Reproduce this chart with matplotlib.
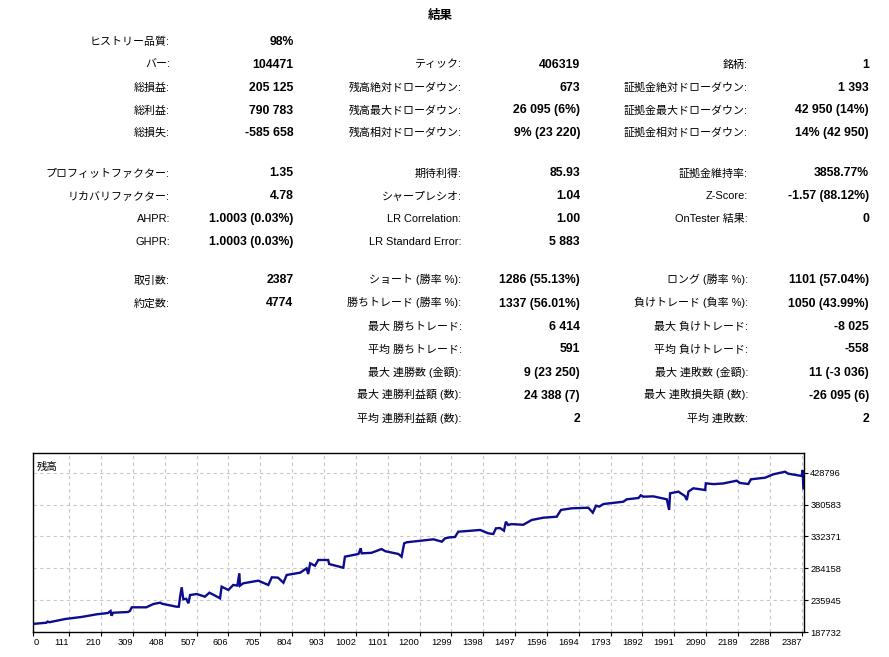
import numpy as np
import matplotlib.pyplot as plt

# --- report table ---
row_y = [40, 62.5, 86, 108.5, 131, 171.5, 194, 217, 240,
         278.5, 301.5, 324.5, 347.5, 370.5, 393.5, 416.5]

col1_labels = ['ヒストリー品質:', 'バー:', '総損益:', '総利益:', '総損失:',
               'プロフィットファクター:', 'リカバリファクター:', 'AHPR:', 'GHPR:',
               '取引数:', '約定数:']
col1_values = ['98%', '104471', '205 125', '790 783', '-585 658',
               '1.35', '4.78', '1.0003 (0.03%)', '1.0003 (0.03%)',
               '2387', '4774']
col1_rows = [0, 1, 2, 3, 4, 5, 6, 7, 8, 9, 10]

col2_labels = ['ティック:', '残高絶対ドローダウン:', '残高最大ドローダウン:', '残高相対ドローダウン:',
               '期待利得:', 'シャープレシオ:', 'LR Correlation:', 'LR Standard Error:',
               'ショート (勝率 %):', '勝ちトレード (勝率 %):', '最大 勝ちトレード:',
               '平均 勝ちトレード:', '最大 連勝数 (金額):', '最大 連勝利益額 (数):',
               '平均 連勝利益額 (数):']
col2_values = ['406319', '673', '26 095 (6%)', '9% (23 220)',
               '85.93', '1.04', '1.00', '5 883',
               '1286 (55.13%)', '1337 (56.01%)', '6 414', '591',
               '9 (23 250)', '24 388 (7)', '2']
col2_rows = [1, 2, 3, 4, 5, 6, 7, 8, 9, 10, 11, 12, 13, 14, 15]

col3_labels = ['銘柄:', '証拠金絶対ドローダウン:', '証拠金最大ドローダウン:', '証拠金相対ドローダウン:',
               '証拠金維持率:', 'Z-Score:', 'OnTester 結果:',
               'ロング (勝率 %):', '負けトレード (負率 %):', '最大 負けトレード:',
               '平均 負けトレード:', '最大 連敗数 (金額):', '最大 連敗損失額 (数):',
               '平均 連敗数:']
col3_values = ['1', '1 393', '42 950 (14%)', '14% (42 950)',
               '3858.77%', '-1.57 (88.12%)', '0',
               '1101 (57.04%)', '1050 (43.99%)', '-8 025', '-558',
               '11 (-3 036)', '-26 095 (6)', '2']
col3_rows = [1, 2, 3, 4, 5, 6, 7, 9, 10, 11, 12, 13, 14, 15]

# --- balance curve (trade number, balance) ---
trades = [0, 41, 44, 50, 99, 150, 197, 232, 240, 243, 248, 294, 300, 306, 351,
          373, 394, 400, 445, 452, 456, 461, 466, 475, 482, 487, 508, 533, 547,
          560, 580, 585, 606, 621, 634, 640, 642, 652, 699, 730, 741, 760, 777,
          787, 829, 849, 854, 860, 875, 885, 916, 919, 963, 968, 1010, 1017,
          1020, 1050, 1082, 1093, 1134, 1144, 1152, 1160, 1243, 1269, 1279,
          1294, 1310, 1320, 1388, 1413, 1429, 1437, 1450, 1462, 1468, 1475,
          1485, 1522, 1548, 1584, 1626, 1639, 1672, 1724, 1738, 1748, 1758,
          1771, 1833, 1843, 1880, 1887, 1895, 1926, 1968, 1975, 1978, 2004,
          2024, 2030, 2035, 2050, 2087, 2089, 2113, 2143, 2185, 2195, 2221,
          2229, 2273, 2299, 2335, 2345, 2387, 2390, 2392]
balance_k = [200.0, 201.8, 203.5, 202.5, 207.4, 210.5, 214.5, 216.5, 219.5,
             212.4, 216.9, 218.0, 219.5, 225.1, 225.1, 230.1, 232.1, 230.5,
             226.0, 226.0, 241.2, 255.4, 237.2, 238.0, 231.2, 243.7, 245.2,
             241.2, 247.2, 244.0, 238.7, 256.3, 251.3, 258.9, 258.0, 276.6,
             257.8, 261.4, 265.4, 258.9, 270.5, 270.0, 262.3, 274.0, 277.5,
             284.1, 275.5, 291.7, 288.0, 296.7, 296.7, 290.6, 285.0, 301.7,
             305.8, 314.4, 306.8, 307.5, 313.3, 310.0, 305.8, 301.7, 321.9,
             323.5, 328.0, 324.4, 329.5, 331.0, 331.5, 339.5, 342.1, 337.1,
             336.0, 344.6, 345.0, 341.0, 354.6, 349.7, 351.0, 350.0, 357.2,
             360.7, 362.2, 372.4, 374.9, 375.8, 368.3, 378.9, 377.5, 381.4,
             384.9, 388.5, 390.5, 394.6, 392.5, 393.0, 388.5, 372.4, 397.6,
             400.1, 393.5, 387.5, 400.1, 405.2, 402.6, 412.7, 411.5, 412.5,
             416.7, 413.3, 411.7, 418.8, 421.2, 426.4, 430.3, 427.3, 423.8,
             432.9, 405.1]

x_ticks = [0, 111, 210, 309, 408, 507, 606, 705, 804, 903, 1002, 1101, 1200,
           1299, 1398, 1497, 1596, 1694, 1793, 1892, 1991, 2090, 2189, 2288, 2387]
y_ticks = [187732, 235945, 284158, 332371, 380583, 428796]

W, H = 889, 657
FONT = ['Liberation Sans', 'Noto Sans CJK JP']
plt.rcParams['font.family'] = FONT

fig = plt.figure(figsize=(W / 100, H / 100), dpi=100)


def px(x, y):
    return x / W, 1 - y / H


fig.text(*px(440, 18.5), '結果', ha='center', va='baseline', fontsize=9,
         fontweight='bold', family=['Noto Sans CJK JP'])

columns = [(col1_labels, col1_values, col1_rows, 170, 293.5),
           (col2_labels, col2_values, col2_rows, 461.5, 580),
           (col3_labels, col3_values, col3_rows, 748, 869)]
for labels, values, rows, lx, vx in columns:
    for lab, val, r in zip(labels, values, rows):
        base = row_y[r] + 5
        fig.text(*px(lx, base), lab, ha='right', va='baseline', fontsize=7.9)
        fig.text(*px(vx, base), val, ha='right', va='baseline', fontsize=8.8,
                 fontweight='bold')

# --- chart ---
ax = fig.add_axes([33.3 / W, 1 - 632 / H, (804 - 33.3) / W, (632 - 453) / H])
ax.plot(trades, np.array(balance_k) * 1000, color='#0c0c8e', lw=1.7,
        solid_joinstyle='miter')
ax.set_xlim(0, 2394)
ax.set_ylim(187732, 458600)
ax.set_xticks(x_ticks)
ax.set_xticklabels([str(t) for t in x_ticks], ha='right')
ax.get_xticklabels()[0].set_ha('left')
ax.set_yticks(y_ticks)
ax.set_yticklabels([str(t) for t in y_ticks])
ax.yaxis.tick_right()
ax.tick_params(direction='out', length=3, width=0.8, labelsize=6.7, pad=1.5)
ax.grid(True, color='#c8c8c8', linestyle=(0, (3, 3)), linewidth=0.8)
for s in ax.spines.values():
    s.set_linewidth(1.0)
ax.text(0.005, 0.95, '残高', transform=ax.transAxes, ha='left', va='top',
        fontsize=7.5, family=['Noto Sans CJK JP'])

plt.savefig('out.png', dpi=100)
